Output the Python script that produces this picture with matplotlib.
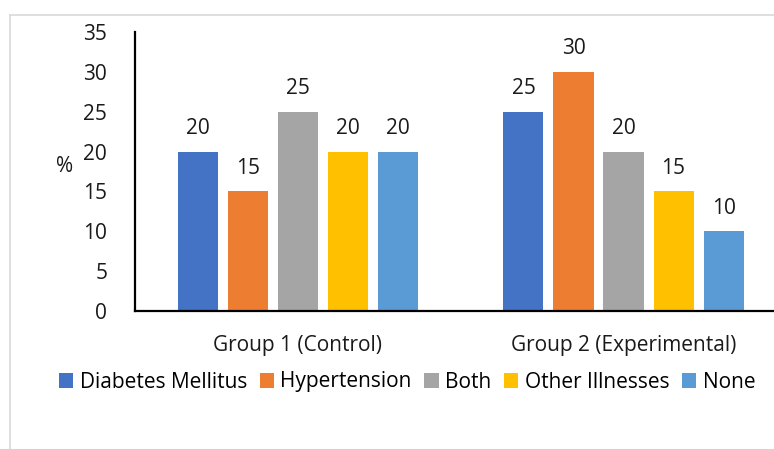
import matplotlib.pyplot as plt
import numpy as np
from matplotlib.lines import Line2D

plt.rcParams['font.family'] = ['Open Sans', 'DejaVu Sans']

groups = ['Group 1 (Control)', 'Group 2 (Experimental)']
series = ['Diabetes Mellitus', 'Hypertension', 'Both', 'Other Illnesses', 'None']
values = [
    [20, 25],   # Diabetes Mellitus
    [15, 30],   # Hypertension
    [25, 20],   # Both
    [20, 15],   # Other Illnesses
    [20, 10],   # None
]
colors = ['#4472C4', '#ED7D31', '#A5A5A5', '#FFC000', '#5B9BD5']

fs = 15
fig = plt.figure(figsize=(7.74, 4.49), dpi=100)
ax = fig.add_axes([135 / 774, 1 - 311 / 449, 638 / 774, 279 / 449])

x = np.arange(len(groups))
width = 0.123
step = 0.1536
for i, (name, vals) in enumerate(zip(series, values)):
    pos = x + (i - 2) * step
    bars = ax.bar(pos, vals, width, color=colors[i], label=name)
    for b, v in zip(bars, vals):
        ax.annotate(str(v), (b.get_x() + b.get_width() / 2, v),
                    xytext=(0, 9), textcoords='offset points',
                    ha='center', va='bottom', fontsize=fs, color='#1a1a1a')

ax.set_xlim(-0.5, 1.459)
ax.set_ylim(0, 35)
ax.set_yticks(range(0, 36, 5))
ax.set_xticks(x)
ax.set_xticklabels(groups)
ax.tick_params(axis='both', length=0, labelsize=fs, colors='#1a1a1a')
ax.tick_params(axis='y', pad=20)
ax.tick_params(axis='x', pad=17)
for s in ['top', 'right']:
    ax.spines[s].set_visible(False)
for s in ['left', 'bottom']:
    ax.spines[s].set_linewidth(1.6)
    ax.spines[s].set_color('black')
ax.set_ylabel('%', rotation=0, fontsize=fs, color='#1a1a1a')
ax.yaxis.set_label_coords(-0.11, 0.48)

fig.legend(loc='center', bbox_to_anchor=(0.526, 1 - 382 / 449), ncol=5,
           frameon=False, fontsize=fs, handlelength=0.7, handleheight=0.7,
           handletextpad=0.3, columnspacing=0.6)

# thin outer border of the chart area
fig.add_artist(Line2D([10 / 774, 10 / 774], [0, 1 - 15 / 449], color='#d9d9d9', lw=1.2))
fig.add_artist(Line2D([10 / 774, 1], [1 - 15 / 449, 1 - 15 / 449], color='#d9d9d9', lw=1.2))

fig.savefig('out.png', dpi=100)
